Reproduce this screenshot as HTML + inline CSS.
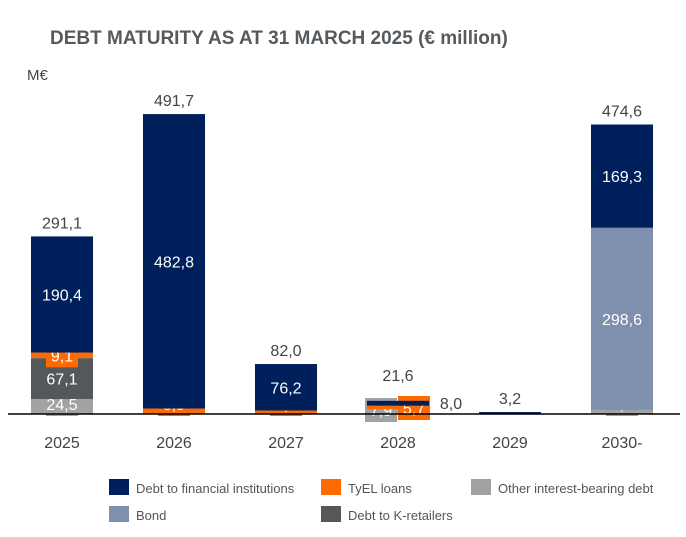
<!DOCTYPE html>
<html><head><meta charset="utf-8"><style>
body{margin:0;background:#fff;font-family:"Liberation Sans",sans-serif;}
svg text{font-family:"Liberation Sans",sans-serif;}
</style></head><body>
<svg id="chart" width="686" height="532" viewBox="0 0 686 532" xmlns="http://www.w3.org/2000/svg">
<text x="50" y="44" font-size="19" font-weight="bold" fill="#555a5e">DEBT MATURITY AS AT 31 MARCH 2025 (€ million)</text>
<text x="27" y="80" font-size="15" fill="#444">M€</text>
<g id="bars"></g>
<line x1="8" y1="414" x2="680" y2="414" stroke="#000" stroke-width="1.5"/>
<g id="legend"></g>
</svg>
<script>
const categories=["2025","2026","2027","2028","2029","2030-"];
const other=[24.5,0,0,7.9,0,6.7];
const kretail=[67.1,0,0,0,0,0];
const tyel=[9.1,8.9,5.7,5.7,0,0];
const bond=[0,0,0,0,0,298.6];
const fin=[190.4,482.8,76.2,8.0,3.2,169.3];
const totals=["291,1","491,7","82,0","21,6","3,2","474,6"];
const NS="http://www.w3.org/2000/svg";
const base=414, k=0.61, x0=31, step=112, bw=62;
const y=v=>base-v*k;
const series=[
 {name:"other",data:other,color:"#a0a2a3",box:true},
 {name:"kretail",data:kretail,color:"#54585b",box:false},
 {name:"tyel",data:tyel,color:"#ff6a00",box:true},
 {name:"bond",data:bond,color:"#7f8fae",box:false},
 {name:"fin",data:fin,color:"#00205b",box:false}
];
const g=document.getElementById('bars');
function el(t,a,p){const e=document.createElementNS(NS,t);for(const q in a)e.setAttribute(q,a[q]);(p||g).appendChild(e);return e;}
const fmt=v=>v.toFixed(1).replace('.',',');
categories.forEach((c,i)=>{
 const bx=x0+i*step; let cum=0;
 series.forEach(s=>{
  const v=s.data[i]; if(!v)return;
  const r=el('rect',{x:bx,y:y(cum+v),width:bw,height:v*k,fill:s.color});
  
  
  const mid=y(cum+v/2);
  let lx=bx+bw/2, ly=mid;
  if(c==="2028"){
   if(s.name==="other"){lx=bx+14;ly=y(0)-4;}
   if(s.name==="tyel"){lx=bx+47;ly=y(0)-6;}
   if(s.name==="fin"){lx=bx+84;ly=y(0)-11;}
  } else if(s.box){ly=Math.min(mid,base-10);}
  if(!(c==="2029")){
   if(s.box){
    const bxr=el('rect',{x:lx-16,y:ly-12,width:32,height:24,fill:s.color});
    
    
   }
   const t=el('text',{x:lx,y:ly+6,'font-size':16,'text-anchor':'middle',fill:(c==="2028"&&s.name==="fin")?'#444':'#fff'});
   
   
   t.textContent=fmt(v);
  }
  cum+=v;
 });
 const tot=series.reduce((a,s)=>a+s.data[i],0);
 const tt=el('text',{x:bx+bw/2,y:y(tot)-(c==="2028"?20:8),'font-size':16,'text-anchor':'middle',fill:'#444'});
 
 
 tt.textContent=totals[i];
 const xl=el('text',{x:bx+bw/2,y:448,'font-size':16,'text-anchor':'middle',fill:'#444'});
 
 
 xl.textContent=c;
});
const legendItems=[["Debt to financial institutions","#00205b",109,488],["TyEL loans","#ff6a00",321,488],["Other interest-bearing debt","#a0a2a3",471,488],["Bond","#7f8fae",109,515],["Debt to K-retailers","#54585b",321,515]];
const lg=document.getElementById('legend');
legendItems.forEach(([n,c,lx,ly])=>{
 const r=el('rect',{x:lx,y:ly-9,width:20,height:16,fill:c},lg);
 
 
 const t=el('text',{x:lx+27,y:ly+5,'font-size':13,fill:'#555'},lg);
 
 
 t.textContent=n;
});
</script>
</body></html>
